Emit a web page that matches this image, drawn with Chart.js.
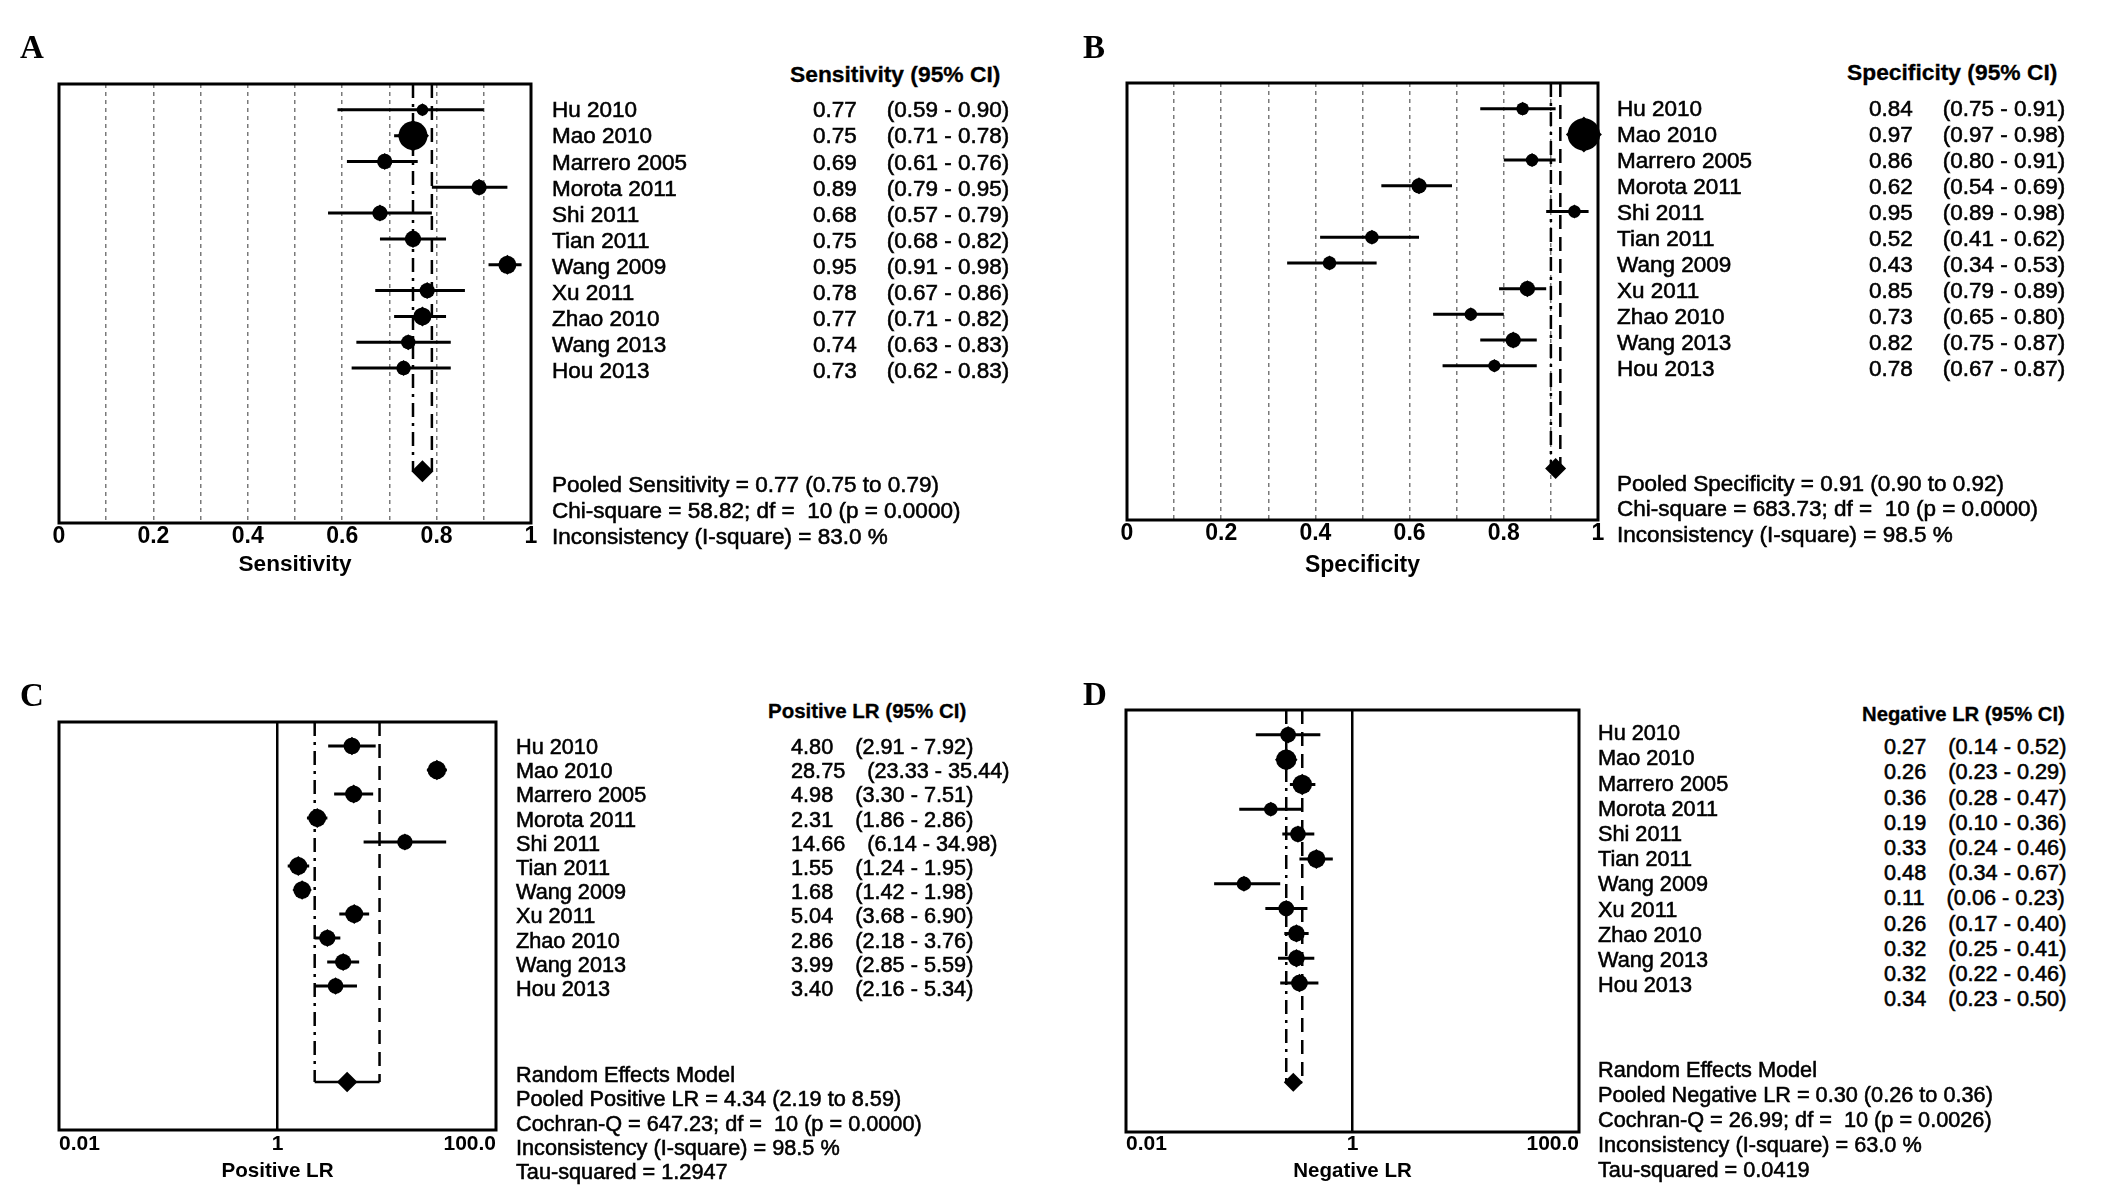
<!DOCTYPE html>
<html><head><meta charset="utf-8">
<script src="https://cdn.jsdelivr.net/npm/chart.js@4.4.1/dist/chart.umd.min.js"></script>
<style>
html,body{margin:0;padding:0;background:#fff;}
#page{position:relative;width:2126px;height:1196px;overflow:hidden;background:#fff;font-family:'Liberation Sans',Arial,sans-serif;color:#000;}
.t{position:absolute;white-space:pre;line-height:1;-webkit-text-stroke:0.55px #000;}
.lbl{position:absolute;line-height:1;font-family:'Liberation Serif','Times New Roman',serif;font-weight:bold;}
canvas{position:absolute;}
</style></head><body><div id="page"></div>
<script>
// ---------------- DATA ----------------
const studies = ['Hu 2010','Mao 2010','Marrero 2005','Morota 2011','Shi 2011','Tian 2011','Wang 2009','Xu 2011','Zhao 2010','Wang 2013','Hou 2013'];

const sensEst = [0.77,0.75,0.69,0.89,0.68,0.75,0.95,0.78,0.77,0.74,0.73];
const sensLo  = [0.59,0.71,0.61,0.79,0.57,0.68,0.91,0.67,0.71,0.63,0.62];
const sensHi  = [0.90,0.78,0.76,0.95,0.79,0.82,0.98,0.86,0.82,0.83,0.83];
const sensPooled = [0.77,0.75,0.79];

const specEst = [0.84,0.97,0.86,0.62,0.95,0.52,0.43,0.85,0.73,0.82,0.78];
const specLo  = [0.75,0.97,0.80,0.54,0.89,0.41,0.34,0.79,0.65,0.75,0.67];
const specHi  = [0.91,0.98,0.91,0.69,0.98,0.62,0.53,0.89,0.80,0.87,0.87];
const specPooled = [0.91,0.90,0.92];

const plrEst = [4.80,28.75,4.98,2.31,14.66,1.55,1.68,5.04,2.86,3.99,3.40];
const plrLo  = [2.91,23.33,3.30,1.86,6.14,1.24,1.42,3.68,2.18,2.85,2.16];
const plrHi  = [7.92,35.44,7.51,2.86,34.98,1.95,1.98,6.90,3.76,5.59,5.34];
const plrPooled = [4.34,2.19,8.59];

const nlrEst = [0.27,0.26,0.36,0.19,0.33,0.48,0.11,0.26,0.32,0.32,0.34];
const nlrLo  = [0.14,0.23,0.28,0.10,0.24,0.34,0.06,0.17,0.25,0.22,0.23];
const nlrHi  = [0.52,0.29,0.47,0.36,0.46,0.67,0.23,0.40,0.41,0.46,0.50];
const nlrPooled = [0.30,0.26,0.36];

const propTickValues = [0,0.1,0.2,0.3,0.4,0.5,0.6,0.7,0.8,0.9,1];
const propTickLabels = ['0','','0.2','','0.4','','0.6','','0.8','','1'];
const lrTickValues = [0.01,1,100];
const lrTickLabels = ['0.01','1','100.0'];

const statsA = ['Pooled Sensitivity = 0.77 (0.75 to 0.79)','Chi-square = 58.82; df =  10 (p = 0.0000)','Inconsistency (I-square) = 83.0 %'];
const statsB = ['Pooled Specificity = 0.91 (0.90 to 0.92)','Chi-square = 683.73; df =  10 (p = 0.0000)','Inconsistency (I-square) = 98.5 %'];
const statsC = ['Random Effects Model','Pooled Positive LR = 4.34 (2.19 to 8.59)','Cochran-Q = 647.23; df =  10 (p = 0.0000)','Inconsistency (I-square) = 98.5 %','Tau-squared = 1.2947'];
const statsD = ['Random Effects Model','Pooled Negative LR = 0.30 (0.26 to 0.36)','Cochran-Q = 26.99; df =  10 (p = 0.0026)','Inconsistency (I-square) = 63.0 %','Tau-squared = 0.0419'];

// ---------------- STYLE ----------------
const markerA = [6.5,16,8.5,8.5,8.5,9,10,8.5,10,8,8];
const markerB = [7,18,7,8.5,7,7.5,7.5,8.5,7,8.5,6.8];
const markerC = [9.3,10.3,9.5,10,8.5,10,9.7,10,9,9,8.7];
const markerD = [8.7,11.3,10.8,7.5,8.7,10,8,8.7,9.2,9.2,9.3];
const POOL_ROW = 14;
const FONT = "'Liberation Sans', Arial, sans-serif";
const page = document.getElementById('page');

const boxPlugin = {id:'box', afterDraw(chart){
  const {ctx, chartArea:a} = chart;
  ctx.save(); ctx.strokeStyle='#000'; ctx.lineWidth=3;
  ctx.strokeRect(a.left, a.top, a.right-a.left, a.bottom-a.top);
  ctx.restore();
}};

function forest(c){
  const cv = document.createElement('canvas');
  cv.width = c.w; cv.height = c.h;
  cv.style.left = c.left+'px'; cv.style.top = c.top+'px';
  page.appendChild(cv);
  const pts = c.est.map((e,i)=>({x:e,y:i}));
  const ci = [];
  c.est.forEach((e,i)=>{ ci.push({x:c.lo[i],y:i},{x:c.hi[i],y:i},{x:null,y:null}); });
  const P = c.pooled;
  const line = (data, extra) => Object.assign({data, showLine:true, pointRadius:0, borderColor:'#000', backgroundColor:'#000', borderWidth:2.5, spanGaps:false, clip:false}, extra||{});
  new Chart(cv, {
    type:'scatter',
    data:{datasets:[
      {data:pts, pointStyle:'circle', pointRadius:c.rad.map(r=>r*0.9), backgroundColor:'#000', borderWidth:0, clip:false},
      {data:pts, pointStyle:'rectRot', pointRadius:c.rad, backgroundColor:'#000', borderWidth:0, clip:false},
      {data:[{x:P[0],y:POOL_ROW}], pointStyle:'rectRot', pointRadius:c.diamond, backgroundColor:'#000', borderWidth:0, clip:false},
      line(ci, {borderWidth:3}),
      line([{x:P[1],y:-1},{x:P[1],y:POOL_ROW}], {borderDash:[14,6,3,6]}),
      line([{x:P[2],y:-1},{x:P[2],y:POOL_ROW}], {borderDash:[14,8]}),
      line([{x:P[1],y:POOL_ROW},{x:P[2],y:POOL_ROW}])
    ]},
    options:{
      responsive:false, animation:false, events:[],
      layout:{padding:{left:c.pl, right:c.pr, top:c.pt, bottom:0}},
      plugins:{legend:{display:false}, tooltip:{enabled:false}},
      scales:{
        y:{type:'linear', min:-1, max:16, reverse:true, display:false},
        x:{
          type:c.log?'logarithmic':'linear', min:c.min, max:c.max,
          afterBuildTicks:s=>{ s.ticks = c.tickVals.map(v=>({value:v})); },
          afterFit:s=>{ s.height = c.axisH; },
          ticks:{autoSkip:false, maxRotation:0, minRotation:0, padding:c.tickPad, color:'#000',
                 align:c.log?'inner':'center',
                 font:{family:FONT, size:c.tickSize, weight:c.tickWeight},
                 callback:(v,i)=>c.tickLabels[i]},
          grid:{drawTicks:false, lineWidth:c.log?2.5:1.5,
                color:ctx=>c.gridOn(ctx.index)?(c.log?'#000':'#7a7a7a'):'rgba(0,0,0,0)'},
          border:{display:false, dash:c.log?[]:[4,4]},
          title:{display:true, text:c.title, color:'#000', padding:{top:0,bottom:0},
                 font:{family:FONT, size:c.titleSize, weight:'bold'}}
        }
      }
    },
    plugins:[boxPlugin]
  });
}

function txt(s, x, cy, size, bold){
  const d = document.createElement('div'); d.className='t'; d.textContent=s;
  d.style.left=x+'px'; d.style.top=(cy-size/2)+'px'; d.style.fontSize=size+'px';
  if(bold){ d.style.fontWeight='bold'; d.style.webkitTextStroke='0.3px #000'; }
  page.appendChild(d); return d;
}
function valRow(v, ciTxt, x, cy, size, gap){
  const d = txt('', x, cy, size, false);
  const a = document.createElement('span'); a.textContent=v;
  const b = document.createElement('span'); b.textContent=ciTxt; b.style.marginLeft=gap+'px';
  d.appendChild(a); d.appendChild(b);
}
function letter(s, x, cy, size){
  const d = document.createElement('div'); d.className='lbl'; d.textContent=s;
  d.style.left=x+'px'; d.style.top=(cy-size/2)+'px'; d.style.fontSize=size+'px';
  page.appendChild(d);
}
function table(c){
  txt(c.header, c.hx, c.hy, c.hsize, true);
  studies.forEach((s,i)=>{
    txt(s, c.nx, c.ny0 + i*c.dy, c.size, false);
    valRow(c.est[i].toFixed(2), '('+c.lo[i].toFixed(2)+' - '+c.hi[i].toFixed(2)+')', c.vx, c.vy0 + i*c.dy, c.size, c.gap);
  });
  c.stats.forEach((s,i)=>txt(s, c.nx, c.sy0 + i*c.sdy, c.size, false));
}

// ---------------- PANELS ----------------
const propGrid = i => i>0 && i<10;
const lrGrid = i => i===1;

forest({left:0, top:60, w:560, h:518, pl:59, pr:29, pt:24, axisH:55, tickPad:0,
  est:sensEst, lo:sensLo, hi:sensHi, pooled:sensPooled, rad:markerA, diamond:11,
  min:0, max:1, tickVals:propTickValues, tickLabels:propTickLabels, tickSize:23, tickWeight:'bold',
  gridOn:propGrid, title:'Sensitivity', titleSize:22.6});
forest({left:1063, top:60, w:560, h:519, pl:64, pr:25, pt:23, axisH:59, tickPad:0,
  est:specEst, lo:specLo, hi:specHi, pooled:specPooled, rad:markerB, diamond:10.5,
  min:0, max:1, tickVals:propTickValues, tickLabels:propTickLabels, tickSize:23, tickWeight:'bold',
  gridOn:propGrid, title:'Specificity', titleSize:23});
forest({left:0, top:700, w:530, h:484, pl:59, pr:34, pt:22, axisH:54, tickPad:2, log:true,
  est:plrEst, lo:plrLo, hi:plrHi, pooled:plrPooled, rad:markerC, diamond:10.3,
  min:0.01, max:100, tickVals:lrTickValues, tickLabels:lrTickLabels, tickSize:21, tickWeight:'bold',
  gridOn:lrGrid, title:'Positive LR', titleSize:20.6});
forest({left:1063, top:690, w:540, h:494, pl:63, pr:24, pt:20, axisH:52, tickPad:0, log:true,
  est:nlrEst, lo:nlrLo, hi:nlrHi, pooled:nlrPooled, rad:markerD, diamond:9.5,
  min:0.01, max:100, tickVals:lrTickValues, tickLabels:lrTickLabels, tickSize:21, tickWeight:'bold',
  gridOn:lrGrid, title:'Negative LR', titleSize:20.5});

table({header:'Sensitivity (95% CI)', hx:790, hy:74, hsize:22.8, nx:552, ny0:110.7, vx:813, vy0:110.7, dy:26.03, size:22.5, gap:30,
  est:sensEst, lo:sensLo, hi:sensHi, stats:statsA, sy0:485, sdy:26});
table({header:'Specificity (95% CI)', hx:1847, hy:72.7, hsize:22.8, nx:1617, ny0:109, vx:1869, vy0:109, dy:26.0, size:22.5, gap:30,
  est:specEst, lo:specLo, hi:specHi, stats:statsB, sy0:484, sdy:25.5});
table({header:'Positive LR (95% CI)', hx:768, hy:711.7, hsize:20.5, nx:516, ny0:746.7, vx:791, vy0:746.7, dy:24.23, size:21.7, gap:22,
  est:plrEst, lo:plrLo, hi:plrHi, stats:statsC, sy0:1075, sdy:24.2});
table({header:'Negative LR (95% CI)', hx:1862, hy:714, hsize:20.3, nx:1598, ny0:733, vx:1884, vy0:747, dy:25.2, size:21.7, gap:22,
  est:nlrEst, lo:nlrLo, hi:nlrHi, stats:statsD, sy0:1070, sdy:25});

letter('A', 20, 47, 33);
letter('B', 1083, 47, 33);
letter('C', 20, 695, 33);
letter('D', 1083, 694, 33);
</script></body></html>
